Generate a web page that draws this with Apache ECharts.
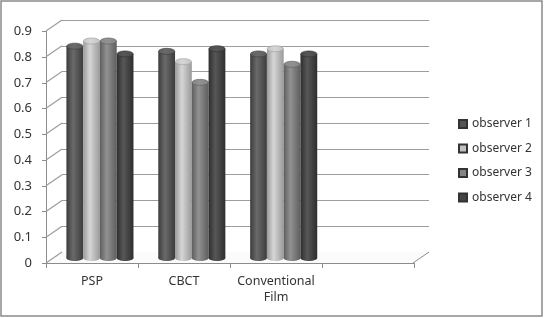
<!DOCTYPE html>
<html>
<head>
<meta charset="utf-8">
<script src="https://cdn.jsdelivr.net/npm/echarts@6/dist/echarts.min.js"></script>
<style>
  html, body { margin: 0; padding: 0; background: #fff; }
  #chart { width: 544px; height: 318px; }
</style>
</head>
<body>
<div id="chart"></div>
<script>
// chart values
const categories = ['PSP', 'CBCT', 'Conventional\nFilm', '']
const observers = ['observer 1', 'observer 2', 'observer 3', 'observer 4']
const observer1 = [0.82, 0.80, 0.79]
const observer2 = [0.84, 0.76, 0.81]
const observer3 = [0.84, 0.68, 0.75]
const observer4 = [0.79, 0.81, 0.79]
const yTicks = [0, 0.1, 0.2, 0.3, 0.4, 0.5, 0.6, 0.7, 0.8, 0.9]

const values = [observer1, observer2, observer3, observer4]
// edge / highlight / top colours per observer
const shades = [
  { edge: '#3c3c3c', mid: '#6a6a6a', top: '#5e5e5e', legend: '#555555' },
  { edge: '#9a9a9a', mid: '#d6d6d6', top: '#c4c4c4', legend: '#c0c0c0' },
  { edge: '#5e5e5e', mid: '#929292', top: '#858585', legend: '#858585' },
  { edge: '#2e2e2e', mid: '#575757', top: '#4a4a4a', legend: '#444444' }
]
const DX = -16 // depth offset of the 3d walls
const DY = 11

const chart = echarts.init(document.getElementById('chart'))

function cylinder (idx) {
  const s = shades[idx]
  return function (params, api) {
    const cat = api.value(0)
    const val = api.value(1)
    const top = api.coord([cat, val])
    const base = api.coord([cat, 0])
    const band = api.size([1, 0])[0]
    const groupW = band * 0.73
    const w = groupW / 4
    const x = top[0] - groupW / 2 + idx * w
    const ry = 3
    const body = new echarts.graphic.LinearGradient(0, 0, 1, 0, [
      { offset: 0, color: s.edge },
      { offset: 0.4, color: s.mid },
      { offset: 1, color: s.edge }
    ])
    const cap = new echarts.graphic.LinearGradient(0, 0, 1, 0, [
      { offset: 0, color: s.top },
      { offset: 0.45, color: s.mid },
      { offset: 1, color: s.top }
    ])
    return {
      type: 'group',
      children: [
        { type: 'ellipse', shape: { cx: x + w / 2, cy: base[1], rx: w / 2, ry: ry }, style: { fill: body } },
        { type: 'rect', shape: { x: x, y: top[1], width: w, height: base[1] - top[1] }, style: { fill: body } },
        { type: 'ellipse', shape: { cx: x + w / 2, cy: top[1], rx: w / 2 - 0.3, ry: ry }, style: { fill: cap, stroke: s.edge, lineWidth: 0.6 } }
      ]
    }
  }
}

const barSeries = observers.map((name, i) => ({
  name: name,
  type: 'custom',
  xAxisIndex: 2,
  yAxisIndex: 2,
  clip: false,
  z: 5,
  itemStyle: { color: shades[i].legend, borderColor: '#333', borderWidth: 0.5 },
  encode: { x: 0, y: 1 },
  renderItem: cylinder(i),
  data: values[i].map((v, c) => [c, v])
}))

const option = {
  backgroundColor: '#ffffff',
  animation: false,
  textStyle: { fontFamily: 'Noto Sans' },
  graphic: [
    {
      type: 'rect',
      shape: { x: 1, y: 1, width: 541, height: 315 },
      style: { fill: 'none', stroke: '#8a8a8a', lineWidth: 1.5 },
      z: 100
    }
  ],
  legend: {
    data: observers,
    orient: 'vertical',
    left: 453,
    top: 112,
    itemWidth: 8,
    itemHeight: 8,
    itemGap: 10.5,
    icon: 'rect',
    textStyle: { fontFamily: 'Noto Sans', fontSize: 12, color: '#333', lineHeight: 14 }
  },
  grid: [
    // front plane (axes)
    { left: 46, top: 31.5, width: 368, height: 231.5 },
    // back wall (gridlines)
    { left: 62, top: 20, width: 367, height: 232 },
    // middle (bars)
    { left: 54, top: 25.5, width: 367.5, height: 232.5 }
  ],
  xAxis: [
    {
      gridIndex: 0,
      type: 'category',
      data: categories,
      boundaryGap: true,
      axisLine: { lineStyle: { color: '#8c8c8c', width: 1 } },
      axisTick: { show: true, length: 5, lineStyle: { color: '#8c8c8c' } },
      axisLabel: { margin: 10, fontSize: 12.5, lineHeight: 16, color: '#333', interval: 0 },
      z: 6
    },
    { gridIndex: 1, type: 'value', min: 0, max: 1, show: false },
    { gridIndex: 2, type: 'category', data: categories, show: false }
  ],
  yAxis: [
    {
      gridIndex: 0,
      type: 'value',
      min: 0,
      max: 0.9,
      interval: 0.1,
      axisLine: { show: true, lineStyle: { color: '#8c8c8c', width: 1 } },
      axisTick: { show: true, length: 4, lineStyle: { color: '#8c8c8c' } },
      axisLabel: { margin: 14, fontSize: 13, color: '#333' },
      splitLine: { show: false }
    },
    {
      gridIndex: 1,
      type: 'value',
      min: 0,
      max: 0.9,
      interval: 0.1,
      axisLine: { show: false },
      axisTick: { show: false },
      axisLabel: { show: false },
      splitLine: { show: true, lineStyle: { color: '#9d9d9d', width: 1.2 } }
    },
    { gridIndex: 2, type: 'value', min: 0, max: 0.9, show: false }
  ],
  series: [
    {
      name: 'floor',
      type: 'custom',
      xAxisIndex: 1,
      yAxisIndex: 1,
      clip: false,
      silent: true,
      z: 1,
      data: [[0, 0]],
      renderItem: function (params, api) {
        const a = api.coord([0, 0])
        const b = api.coord([1, 0])
        return {
          type: 'group',
          children: [
            {
              type: 'polygon',
              shape: { points: [a, b, [b[0] + DX, b[1] + DY], [a[0] + DX, a[1] + DY]] },
              style: { fill: '#fbfbfb' }
            },
            {
              type: 'line',
              shape: { x1: b[0], y1: b[1], x2: b[0] + DX, y2: b[1] + DY },
              style: { stroke: '#8c8c8c', lineWidth: 1 }
            }
          ]
        }
      }
    },
    {
      name: 'wall',
      type: 'custom',
      xAxisIndex: 1,
      yAxisIndex: 1,
      clip: false,
      silent: true,
      z: 2,
      data: yTicks.map(v => [0, v]),
      renderItem: function (params, api) {
        const p = api.coord([0, api.value(1)])
        return {
          type: 'line',
          shape: { x1: p[0], y1: p[1], x2: p[0] + DX, y2: p[1] + DY },
          style: { stroke: '#9d9d9d', lineWidth: 1.2 }
        }
      }
    }
  ].concat(barSeries)
}

chart.setOption(option)
</script>
</body>
</html>
